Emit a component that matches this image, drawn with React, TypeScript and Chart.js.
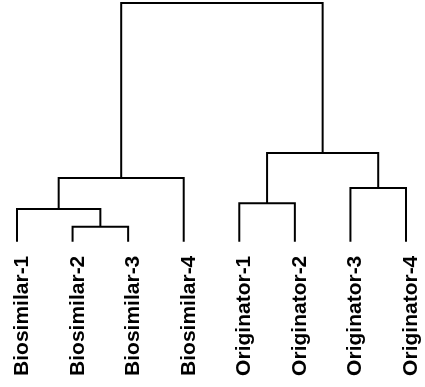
import { useEffect, useRef } from "react";
import { Chart, registerables } from "chart.js";

Chart.register(...registerables);

// Leaf labels in display order
const leafLabels = [
  "Biosimilar-1",
  "Biosimilar-2",
  "Biosimilar-3",
  "Biosimilar-4",
  "Originator-1",
  "Originator-2",
  "Originator-3",
  "Originator-4",
];

// Merge steps: children node indices (0-7 are leaves, 8+ are merges in order) and merge heights
const mergeLeft = [1, 0, 9, 4, 6, 11, 10];
const mergeRight = [2, 8, 3, 5, 7, 12, 13];
const mergeHeight = [6.3, 13.7, 26.7, 16.1, 22.5, 37.2, 100];

function buildLinks() {
  const nodeX: number[] = leafLabels.map((_, i) => i);
  const nodeH: number[] = leafLabels.map(() => 0);
  const links: { x: number; y: number }[][] = [];
  for (let i = 0; i < mergeHeight.length; i++) {
    const a = mergeLeft[i];
    const b = mergeRight[i];
    const h = mergeHeight[i];
    links.push([
      { x: nodeX[a], y: nodeH[a] },
      { x: nodeX[a], y: h },
      { x: nodeX[b], y: h },
      { x: nodeX[b], y: nodeH[b] },
    ]);
    nodeX.push((nodeX[a] + nodeX[b]) / 2);
    nodeH.push(h);
  }
  return links;
}

const leafLabelPlugin = {
  id: "leafLabels",
  afterDraw(chart: any) {
    const { ctx, scales, chartArea } = chart;
    const xs = scales.x;
    ctx.save();
    ctx.fillStyle = "#000";
    ctx.font = "bold 21px 'Liberation Sans', Arial, sans-serif";
    ctx.textAlign = "right";
    ctx.textBaseline = "alphabetic";
    leafLabels.forEach((lab, i) => {
      const px = xs.getPixelForValue(i);
      ctx.save();
      ctx.translate(px + 11, chartArea.bottom + 14);
      ctx.rotate(-Math.PI / 2);
      ctx.fillText(lab, 0, 0);
      ctx.restore();
    });
    ctx.restore();
  },
};

export default function App() {
  const canvasRef = useRef<HTMLCanvasElement | null>(null);

  useEffect(() => {
    if (!canvasRef.current) return;
    const links = buildLinks();
    const chart = new Chart(canvasRef.current, {
      type: "scatter",
      data: {
        datasets: links.map((pts) => ({
          data: pts,
          showLine: true,
          borderColor: "#000",
          borderWidth: 2,
          pointRadius: 0,
          pointHoverRadius: 0,
          fill: false,
          tension: 0,
          borderJoinStyle: "miter" as const,
          clip: false as any,
        })),
      },
      options: {
        responsive: false,
        animation: false,
        events: [],
        layout: { padding: { top: 3, bottom: 145.3, left: 0, right: 0 } },
        plugins: {
          legend: { display: false },
          tooltip: { enabled: false },
        },
        scales: {
          x: { type: "linear", display: false, min: -0.3059, max: 7.3419 },
          y: { type: "linear", display: false, min: 0, max: 100 },
        },
      },
      plugins: [leafLabelPlugin],
    });
    return () => chart.destroy();
  }, []);

  return (
    <div style={{ position: "absolute", left: 0, top: 0, width: 425, height: 387, background: "#fff" }}>
      <canvas ref={canvasRef} width={425} height={387} />
    </div>
  );
}
